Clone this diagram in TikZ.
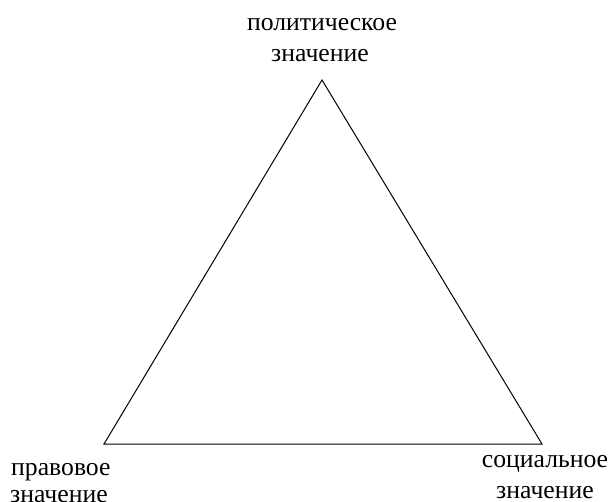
\documentclass[tikz,border=0pt]{standalone}
\usepackage{fontspec}
\setmainfont{Liberation Serif}
\begin{document}
\begin{tikzpicture}[x=1bp,y=-1bp,
  lbl/.style={inner sep=0pt,font=\fontsize{25.7bp}{31bp}\selectfont}]
\useasboundingbox (0,0) rectangle (610,502);
\coordinate (A) at (322,80);
\coordinate (B) at (104,444);
\coordinate (C) at (542,444);
\draw[line width=1bp,line join=miter] (A) -- (B) -- (C) -- cycle;
\node[lbl,anchor=base] (top1) at (322,31) {политическое};
\node[lbl,anchor=base] (top2) at (320,62) {значение};
\node[lbl,anchor=base west] (left1) at (11,475) {правовое};
\node[lbl,anchor=base west] (left2) at (10,502) {значение};
\node[lbl,anchor=base] (right1) at (545,467) {социальное};
\node[lbl,anchor=base] (right2) at (545,498) {значение};
\end{tikzpicture}
\end{document}
